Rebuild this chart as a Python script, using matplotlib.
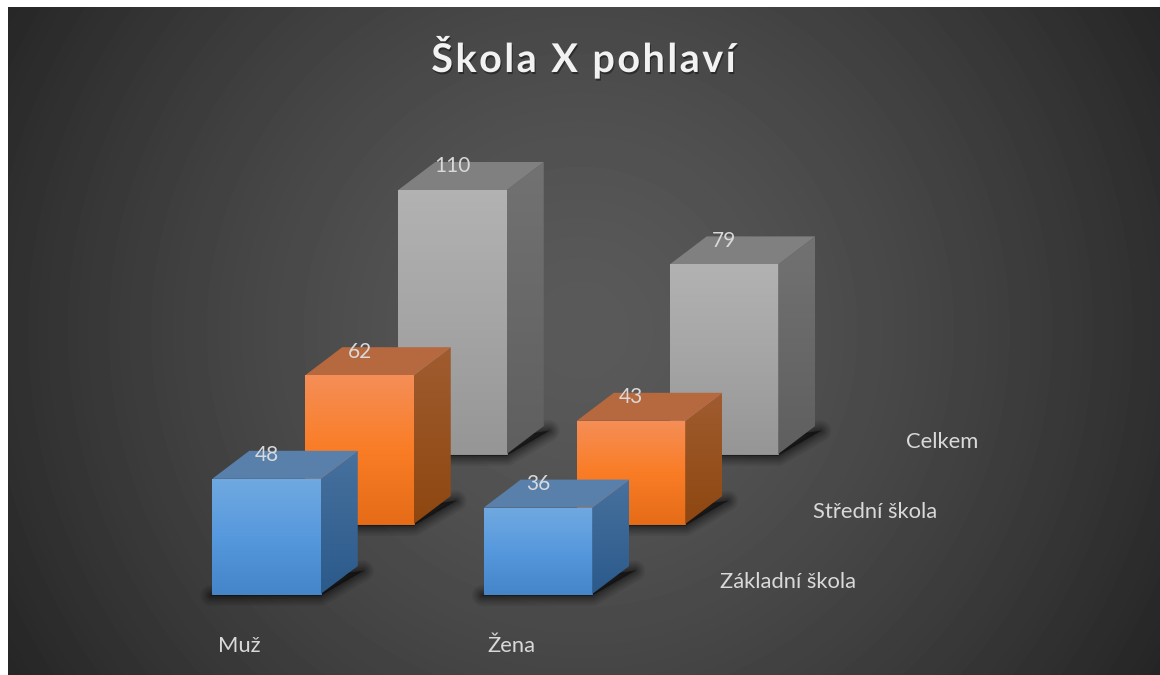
import numpy as np
import matplotlib
matplotlib.use("Agg")
import matplotlib.pyplot as plt
from matplotlib.colors import LinearSegmentedColormap
from matplotlib.patches import Polygon
import matplotlib.patheffects as pe

nazev = "Škola X pohlaví"
pohlavi = ["Muž", "Žena"]
skoly = ["Základní škola", "Střední škola", "Celkem"]
zakladni = [48, 36]
stredni = [62, 43]
celkem = [110, 79]
hodnoty = [zakladni, stredni, celkem]

# barvy: predni strana nahore/stred/dole, bok nahore/dole, vrsek
barvy = [
    ("#70a9e1", "#5799dd", "#4585ca", "#47719e", "#2b5a8b", "#5880ab"),
    ("#f58e57", "#fa7d26", "#e66c18", "#a05c30", "#8e4710", "#b6683f"),
    ("#b2b2b2", "#a5a5a5", "#969696", "#727272", "#5f5f5f", "#808080"),
]

W, H = 1160, 675
px_x = 271.5      # pixelu na kategorii
px_y = 2.4        # pixelu na jednotku
sirka = 108.5 / px_x
hloubka_x = 37 / px_x
hloubka_y = 28 / px_y
rada_x = 93 / px_x
rada_y = 70 / px_y

plt.rcParams["font.family"] = ["Lato", "DejaVu Sans"]
fig = plt.figure(figsize=(W / 100, H / 100), dpi=100, facecolor="white")

# pozadi
bg = fig.add_axes([8 / W, 0, 1 - 8 / W, 1 - 7 / H])
yy, xx = np.mgrid[7:H, 8:W]
r = np.hypot(xx - 580, yy - 330) / 570
bg.imshow(0x5a - 42 * r ** 1.4, cmap="gray", vmin=0, vmax=255, aspect="auto")
bg.axis("off")

ax = fig.add_axes([0, 0, 1, 1])
ax.patch.set_alpha(0)
ax.axis("off")
xlim = (-266.5 / px_x, (W - 266.5) / px_x)
ylim = (-(H - 594) / px_y, 594 / px_y)


def gradient(body, barvy_g, z):
    body = np.array(body)
    x0, y0 = body.min(axis=0)
    x1, y1 = body.max(axis=0)
    cm = LinearSegmentedColormap.from_list("g", barvy_g)
    im = ax.imshow(np.linspace(0, 1, 64).reshape(-1, 1), cmap=cm, vmin=0, vmax=1,
                   extent=(x0, x1, y0, y1), aspect="auto", zorder=z)
    p = Polygon(body, closed=True, transform=ax.transData, fc="none", ec="none")
    ax.add_patch(p)
    im.set_clip_path(p)


def sloup(kat, rada, v, z):
    b = barvy[rada]
    x0 = kat + rada * rada_x - sirka / 2
    x1 = x0 + sirka
    y0 = rada * rada_y
    y1 = y0 + v
    dx, dy = hloubka_x, hloubka_y
    # stin pod sloupem
    stin = [(x0 - 0.005, y0 - 0.6), (x1, y0 - 0.6), (x1 + dx + 0.02, y0 + dy - 2), (x1 + dx - 0.1, y0 + dy - 4)]
    for lw in [15, 12, 9.5, 7.5, 5.5, 4, 2.5, 1.2]:
        ax.add_patch(Polygon(stin, closed=True, fc="black", ec="black", lw=lw, alpha=0.07,
                             joinstyle="round", zorder=z))
    bok = [(x1, y0), (x1 + dx, y0 + dy), (x1 + dx, y1 + dy), (x1, y1)]
    vrsek = [(x0, y1), (x1, y1), (x1 + dx, y1 + dy), (x0 + dx, y1 + dy)]
    predek = [(x0, y0), (x1, y0), (x1, y1), (x0, y1)]
    # podklad, aby na hrane nepresvitalo pozadi
    ax.add_patch(Polygon(predek, closed=True, fc=b[1], ec=b[1], lw=0.5, zorder=z + 0.05))
    gradient(bok, [b[3], b[4]], z + 0.1)
    ax.add_patch(Polygon(vrsek, closed=True, fc=b[5], ec="none", zorder=z + 0.1))
    gradient(predek, [b[0], b[1], b[2]], z + 0.2)
    return x0, y1


# od zadni rady dopredu
for rada in range(len(skoly) - 1, -1, -1):
    z = 10 + (len(skoly) - rada) * 2
    for kat in range(len(pohlavi)):
        v = hodnoty[rada][kat]
        x0, y1 = sloup(kat, rada, v, z)
        ax.text(x0 + sirka / 2, y1 + 23.5 / px_y, str(v), color="#d9d9d9", fontsize=15,
                ha="center", va="center", zorder=z + 0.5)

for kat, jm in enumerate(pohlavi):
    ax.text(kat - 27 / px_x, -52 / px_y, jm, color="#d9d9d9", fontsize=15.8, ha="center", va="center", zorder=30)

for rada, jm in enumerate(skoly):
    ax.text(1 + sirka / 2 + 128 / px_x + rada * rada_x, 12 / px_y + rada * rada_y, jm,
            color="#d9d9d9", fontsize=15.8, ha="left", va="center", zorder=30)

ax.set_xlim(xlim)
ax.set_ylim(ylim)

# proklad pismen v nadpisu
t = fig.text(584 / W, 1 - 57 / H, "\u200a".join(nazev), color="#f2f2f2",
             fontsize=28.5, fontweight="bold", ha="center", va="center", zorder=40)
t.set_path_effects([pe.withSimplePatchShadow(offset=(0.8, -1.5), shadow_rgbFace="black", alpha=0.4)])

fig.savefig("out.png", dpi=100)
